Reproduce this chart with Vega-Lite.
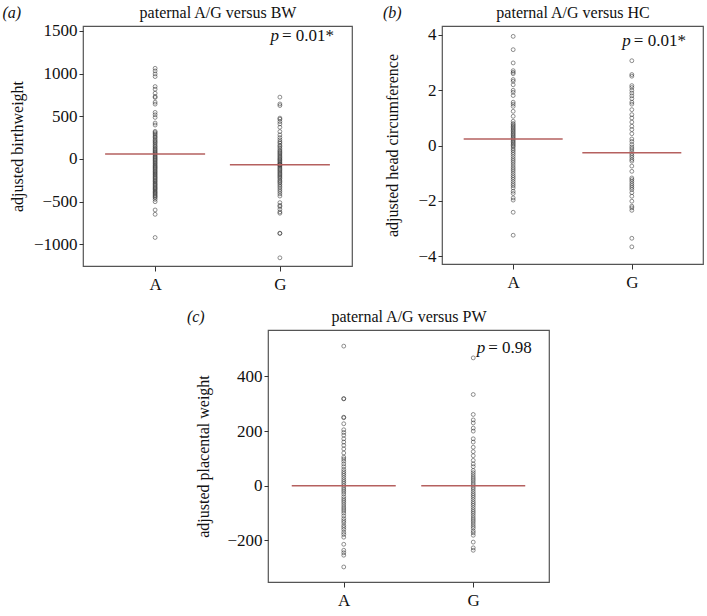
{
  "$schema": "https://vega.github.io/schema/vega-lite/v6.json",
  "background": "white",
  "padding": {"left": 1, "top": 3, "right": 0, "bottom": 0},
  "config": {
    "view": {"stroke": "#555", "strokeWidth": 1.2},
    "font": "Liberation Serif",
    "axis": {"grid": false, "domain": false, "tickColor": "#333", "tickSize": 4, "labelFont": "Liberation Serif", "labelFontSize": 17, "labelColor": "#111", "titleFont": "Liberation Serif", "titleFontSize": 16, "titleFontWeight": "normal", "titleColor": "#111"},
    "title": {"font": "Liberation Serif", "fontSize": 16, "fontWeight": "normal", "fontStyle": "italic", "color": "#111", "anchor": "start", "frame": "bounds", "baseline": "alphabetic", "offset": -16}
  },
  "datasets": {
    "pts": [
      {"panel":"a","group":"A","value":1062},{"panel":"a","group":"A","value":1031},{"panel":"a","group":"A","value":996},{"panel":"a","group":"A","value":965},{"panel":"a","group":"A","value":848},{"panel":"a","group":"A","value":817},{"panel":"a","group":"A","value":770},{"panel":"a","group":"A","value":731},{"panel":"a","group":"A","value":720},{"panel":"a","group":"A","value":665},{"panel":"a","group":"A","value":642},{"panel":"a","group":"A","value":545},{"panel":"a","group":"A","value":517},{"panel":"a","group":"A","value":486},{"panel":"a","group":"A","value":420},{"panel":"a","group":"A","value":397},{"panel":"a","group":"A","value":323},{"panel":"a","group":"A","value":310},{"panel":"a","group":"A","value":295},{"panel":"a","group":"A","value":280},{"panel":"a","group":"A","value":262},{"panel":"a","group":"A","value":250},{"panel":"a","group":"A","value":231},{"panel":"a","group":"A","value":215},{"panel":"a","group":"A","value":200},{"panel":"a","group":"A","value":187},{"panel":"a","group":"A","value":170},{"panel":"a","group":"A","value":152},{"panel":"a","group":"A","value":140},{"panel":"a","group":"A","value":123},{"panel":"a","group":"A","value":110},{"panel":"a","group":"A","value":95},{"panel":"a","group":"A","value":82},{"panel":"a","group":"A","value":70},{"panel":"a","group":"A","value":58},{"panel":"a","group":"A","value":45},{"panel":"a","group":"A","value":30},{"panel":"a","group":"A","value":18},{"panel":"a","group":"A","value":5},{"panel":"a","group":"A","value":-8},{"panel":"a","group":"A","value":-20},{"panel":"a","group":"A","value":-35},{"panel":"a","group":"A","value":-48},{"panel":"a","group":"A","value":-60},{"panel":"a","group":"A","value":-75},{"panel":"a","group":"A","value":-88},{"panel":"a","group":"A","value":-100},{"panel":"a","group":"A","value":-112},{"panel":"a","group":"A","value":-125},{"panel":"a","group":"A","value":-140},{"panel":"a","group":"A","value":-152},{"panel":"a","group":"A","value":-165},{"panel":"a","group":"A","value":-178},{"panel":"a","group":"A","value":-190},{"panel":"a","group":"A","value":-205},{"panel":"a","group":"A","value":-218},{"panel":"a","group":"A","value":-230},{"panel":"a","group":"A","value":-245},{"panel":"a","group":"A","value":-258},{"panel":"a","group":"A","value":-270},{"panel":"a","group":"A","value":-285},{"panel":"a","group":"A","value":-298},{"panel":"a","group":"A","value":-310},{"panel":"a","group":"A","value":-325},{"panel":"a","group":"A","value":-338},{"panel":"a","group":"A","value":-350},{"panel":"a","group":"A","value":-362},{"panel":"a","group":"A","value":-378},{"panel":"a","group":"A","value":-390},{"panel":"a","group":"A","value":-402},{"panel":"a","group":"A","value":-415},{"panel":"a","group":"A","value":-430},{"panel":"a","group":"A","value":-442},{"panel":"a","group":"A","value":-455},{"panel":"a","group":"A","value":-475},{"panel":"a","group":"A","value":-502},{"panel":"a","group":"A","value":-599},{"panel":"a","group":"A","value":-650},{"panel":"a","group":"A","value":-922},
      {"panel":"a","group":"G","value":724},{"panel":"a","group":"G","value":644},{"panel":"a","group":"G","value":625},{"panel":"a","group":"G","value":478},{"panel":"a","group":"G","value":465},{"panel":"a","group":"G","value":437},{"panel":"a","group":"G","value":410},{"panel":"a","group":"G","value":371},{"panel":"a","group":"G","value":320},{"panel":"a","group":"G","value":281},{"panel":"a","group":"G","value":250},{"panel":"a","group":"G","value":223},{"panel":"a","group":"G","value":200},{"panel":"a","group":"G","value":184},{"panel":"a","group":"G","value":160},{"panel":"a","group":"G","value":145},{"panel":"a","group":"G","value":125},{"panel":"a","group":"G","value":105},{"panel":"a","group":"G","value":90},{"panel":"a","group":"G","value":75},{"panel":"a","group":"G","value":60},{"panel":"a","group":"G","value":45},{"panel":"a","group":"G","value":30},{"panel":"a","group":"G","value":15},{"panel":"a","group":"G","value":0},{"panel":"a","group":"G","value":-12},{"panel":"a","group":"G","value":-25},{"panel":"a","group":"G","value":-40},{"panel":"a","group":"G","value":-55},{"panel":"a","group":"G","value":-65},{"panel":"a","group":"G","value":-70},{"panel":"a","group":"G","value":-80},{"panel":"a","group":"G","value":-95},{"panel":"a","group":"G","value":-110},{"panel":"a","group":"G","value":-125},{"panel":"a","group":"G","value":-140},{"panel":"a","group":"G","value":-155},{"panel":"a","group":"G","value":-170},{"panel":"a","group":"G","value":-185},{"panel":"a","group":"G","value":-200},{"panel":"a","group":"G","value":-215},{"panel":"a","group":"G","value":-230},{"panel":"a","group":"G","value":-250},{"panel":"a","group":"G","value":-265},{"panel":"a","group":"G","value":-280},{"panel":"a","group":"G","value":-300},{"panel":"a","group":"G","value":-320},{"panel":"a","group":"G","value":-340},{"panel":"a","group":"G","value":-363},{"panel":"a","group":"G","value":-385},{"panel":"a","group":"G","value":-410},{"panel":"a","group":"G","value":-436},{"panel":"a","group":"G","value":-513},{"panel":"a","group":"G","value":-545},{"panel":"a","group":"G","value":-559},{"panel":"a","group":"G","value":-591},{"panel":"a","group":"G","value":-622},{"panel":"a","group":"G","value":-637},{"panel":"a","group":"G","value":-871},{"panel":"a","group":"G","value":-875},{"panel":"a","group":"G","value":-1160},
      {"panel":"b","group":"A","value":3.95},{"panel":"b","group":"A","value":3.47},{"panel":"b","group":"A","value":2.99},{"panel":"b","group":"A","value":2.71},{"panel":"b","group":"A","value":2.65},{"panel":"b","group":"A","value":2.6},{"panel":"b","group":"A","value":2.39},{"panel":"b","group":"A","value":2.33},{"panel":"b","group":"A","value":2.2},{"panel":"b","group":"A","value":2.0},{"panel":"b","group":"A","value":1.93},{"panel":"b","group":"A","value":1.81},{"panel":"b","group":"A","value":1.57},{"panel":"b","group":"A","value":1.5},{"panel":"b","group":"A","value":1.42},{"panel":"b","group":"A","value":1.24},{"panel":"b","group":"A","value":1.06},{"panel":"b","group":"A","value":0.88},{"panel":"b","group":"A","value":0.8},{"panel":"b","group":"A","value":0.75},{"panel":"b","group":"A","value":0.7},{"panel":"b","group":"A","value":0.65},{"panel":"b","group":"A","value":0.6},{"panel":"b","group":"A","value":0.55},{"panel":"b","group":"A","value":0.5},{"panel":"b","group":"A","value":0.45},{"panel":"b","group":"A","value":0.4},{"panel":"b","group":"A","value":0.35},{"panel":"b","group":"A","value":0.3},{"panel":"b","group":"A","value":0.25},{"panel":"b","group":"A","value":0.2},{"panel":"b","group":"A","value":0.15},{"panel":"b","group":"A","value":0.1},{"panel":"b","group":"A","value":0.05},{"panel":"b","group":"A","value":0.0},{"panel":"b","group":"A","value":-0.05},{"panel":"b","group":"A","value":-0.12},{"panel":"b","group":"A","value":-0.18},{"panel":"b","group":"A","value":-0.25},{"panel":"b","group":"A","value":-0.32},{"panel":"b","group":"A","value":-0.4},{"panel":"b","group":"A","value":-0.48},{"panel":"b","group":"A","value":-0.55},{"panel":"b","group":"A","value":-0.62},{"panel":"b","group":"A","value":-0.7},{"panel":"b","group":"A","value":-0.78},{"panel":"b","group":"A","value":-0.85},{"panel":"b","group":"A","value":-0.92},{"panel":"b","group":"A","value":-1.0},{"panel":"b","group":"A","value":-1.08},{"panel":"b","group":"A","value":-1.15},{"panel":"b","group":"A","value":-1.22},{"panel":"b","group":"A","value":-1.3},{"panel":"b","group":"A","value":-1.38},{"panel":"b","group":"A","value":-1.45},{"panel":"b","group":"A","value":-1.53},{"panel":"b","group":"A","value":-1.65},{"panel":"b","group":"A","value":-1.73},{"panel":"b","group":"A","value":-1.89},{"panel":"b","group":"A","value":-1.97},{"panel":"b","group":"A","value":-2.41},{"panel":"b","group":"A","value":-3.24},
      {"panel":"b","group":"G","value":3.07},{"panel":"b","group":"G","value":2.57},{"panel":"b","group":"G","value":2.51},{"panel":"b","group":"G","value":2.17},{"panel":"b","group":"G","value":2.1},{"panel":"b","group":"G","value":2.0},{"panel":"b","group":"G","value":1.9},{"panel":"b","group":"G","value":1.8},{"panel":"b","group":"G","value":1.7},{"panel":"b","group":"G","value":1.57},{"panel":"b","group":"G","value":1.5},{"panel":"b","group":"G","value":1.3},{"panel":"b","group":"G","value":1.12},{"panel":"b","group":"G","value":1.0},{"panel":"b","group":"G","value":0.85},{"panel":"b","group":"G","value":0.7},{"panel":"b","group":"G","value":0.58},{"panel":"b","group":"G","value":0.43},{"panel":"b","group":"G","value":0.24},{"panel":"b","group":"G","value":0.15},{"panel":"b","group":"G","value":0.04},{"panel":"b","group":"G","value":-0.05},{"panel":"b","group":"G","value":-0.12},{"panel":"b","group":"G","value":-0.2},{"panel":"b","group":"G","value":-0.28},{"panel":"b","group":"G","value":-0.35},{"panel":"b","group":"G","value":-0.42},{"panel":"b","group":"G","value":-0.5},{"panel":"b","group":"G","value":-0.56},{"panel":"b","group":"G","value":-0.74},{"panel":"b","group":"G","value":-0.93},{"panel":"b","group":"G","value":-1.17},{"panel":"b","group":"G","value":-1.23},{"panel":"b","group":"G","value":-1.3},{"panel":"b","group":"G","value":-1.38},{"panel":"b","group":"G","value":-1.45},{"panel":"b","group":"G","value":-1.52},{"panel":"b","group":"G","value":-1.59},{"panel":"b","group":"G","value":-1.7},{"panel":"b","group":"G","value":-1.83},{"panel":"b","group":"G","value":-2.01},{"panel":"b","group":"G","value":-2.19},{"panel":"b","group":"G","value":-2.25},{"panel":"b","group":"G","value":-2.34},{"panel":"b","group":"G","value":-3.35},{"panel":"b","group":"G","value":-3.66},
      {"panel":"c","group":"A","value":511},{"panel":"c","group":"A","value":319},{"panel":"c","group":"A","value":318},{"panel":"c","group":"A","value":251},{"panel":"c","group":"A","value":249},{"panel":"c","group":"A","value":227},{"panel":"c","group":"A","value":205},{"panel":"c","group":"A","value":195},{"panel":"c","group":"A","value":185},{"panel":"c","group":"A","value":172},{"panel":"c","group":"A","value":160},{"panel":"c","group":"A","value":148},{"panel":"c","group":"A","value":135},{"panel":"c","group":"A","value":120},{"panel":"c","group":"A","value":105},{"panel":"c","group":"A","value":98},{"panel":"c","group":"A","value":90},{"panel":"c","group":"A","value":80},{"panel":"c","group":"A","value":70},{"panel":"c","group":"A","value":60},{"panel":"c","group":"A","value":52},{"panel":"c","group":"A","value":45},{"panel":"c","group":"A","value":38},{"panel":"c","group":"A","value":30},{"panel":"c","group":"A","value":22},{"panel":"c","group":"A","value":15},{"panel":"c","group":"A","value":8},{"panel":"c","group":"A","value":0},{"panel":"c","group":"A","value":-8},{"panel":"c","group":"A","value":-15},{"panel":"c","group":"A","value":-22},{"panel":"c","group":"A","value":-30},{"panel":"c","group":"A","value":-40},{"panel":"c","group":"A","value":-48},{"panel":"c","group":"A","value":-55},{"panel":"c","group":"A","value":-62},{"panel":"c","group":"A","value":-70},{"panel":"c","group":"A","value":-78},{"panel":"c","group":"A","value":-85},{"panel":"c","group":"A","value":-92},{"panel":"c","group":"A","value":-100},{"panel":"c","group":"A","value":-110},{"panel":"c","group":"A","value":-120},{"panel":"c","group":"A","value":-128},{"panel":"c","group":"A","value":-135},{"panel":"c","group":"A","value":-145},{"panel":"c","group":"A","value":-152},{"panel":"c","group":"A","value":-160},{"panel":"c","group":"A","value":-170},{"panel":"c","group":"A","value":-178},{"panel":"c","group":"A","value":-188},{"panel":"c","group":"A","value":-214},{"panel":"c","group":"A","value":-236},{"panel":"c","group":"A","value":-245},{"panel":"c","group":"A","value":-254},{"panel":"c","group":"A","value":-297},
      {"panel":"c","group":"G","value":468},{"panel":"c","group":"G","value":334},{"panel":"c","group":"G","value":261},{"panel":"c","group":"G","value":241},{"panel":"c","group":"G","value":230},{"panel":"c","group":"G","value":211},{"panel":"c","group":"G","value":200},{"panel":"c","group":"G","value":172},{"panel":"c","group":"G","value":160},{"panel":"c","group":"G","value":141},{"panel":"c","group":"G","value":125},{"panel":"c","group":"G","value":110},{"panel":"c","group":"G","value":93},{"panel":"c","group":"G","value":80},{"panel":"c","group":"G","value":70},{"panel":"c","group":"G","value":56},{"panel":"c","group":"G","value":48},{"panel":"c","group":"G","value":40},{"panel":"c","group":"G","value":32},{"panel":"c","group":"G","value":25},{"panel":"c","group":"G","value":18},{"panel":"c","group":"G","value":10},{"panel":"c","group":"G","value":3},{"panel":"c","group":"G","value":-5},{"panel":"c","group":"G","value":-12},{"panel":"c","group":"G","value":-20},{"panel":"c","group":"G","value":-28},{"panel":"c","group":"G","value":-35},{"panel":"c","group":"G","value":-42},{"panel":"c","group":"G","value":-50},{"panel":"c","group":"G","value":-58},{"panel":"c","group":"G","value":-65},{"panel":"c","group":"G","value":-72},{"panel":"c","group":"G","value":-80},{"panel":"c","group":"G","value":-88},{"panel":"c","group":"G","value":-95},{"panel":"c","group":"G","value":-102},{"panel":"c","group":"G","value":-110},{"panel":"c","group":"G","value":-118},{"panel":"c","group":"G","value":-125},{"panel":"c","group":"G","value":-132},{"panel":"c","group":"G","value":-140},{"panel":"c","group":"G","value":-148},{"panel":"c","group":"G","value":-155},{"panel":"c","group":"G","value":-165},{"panel":"c","group":"G","value":-172},{"panel":"c","group":"G","value":-181},{"panel":"c","group":"G","value":-206},{"panel":"c","group":"G","value":-227},{"panel":"c","group":"G","value":-236}
    ],
    "means": [
      {"panel":"a","group":"A","mean":58},{"panel":"a","group":"G","mean":-70},
      {"panel":"b","group":"A","mean":0.24},{"panel":"b","group":"G","mean":-0.26},
      {"panel":"c","group":"A","mean":0},{"panel":"c","group":"G","mean":0}
    ],
    "pv": [
      {"panel":"a","p":"p","rest":"= 0.01*"},
      {"panel":"b","p":"p","rest":"= 0.01*"},
      {"panel":"c","p":"p","rest":"= 0.98"}
    ]
  },
  "spacing": 14,
  "vconcat": [
    {
      "spacing": 29,
      "hconcat": [
        {
          "width": 269, "height": 240,
          "title": {"text": "(a)", "dx": -7},
          "resolve": {"axis": {"x": "independent"}},
          "layer": [
            {
              "data": {"name": "pts"},
              "transform": [{"filter": "datum.panel === 'a'"}],
              "mark": {"type": "point", "shape": "circle", "size": 15, "stroke": "#222", "strokeWidth": 0.85, "strokeOpacity": 0.85, "filled": false},
              "encoding": {
                "x": {"field": "group", "type": "nominal", "scale": {"type": "point", "domain": ["A", "G"], "padding": 0.578}, "axis": {"title": null, "labelAngle": 0, "tickSize": 5, "labelPadding": 5}},
                "y": {"field": "value", "type": "quantitative", "scale": {"domain": [-1256, 1558], "nice": false, "zero": false}, "axis": {"title": "adjusted birthweight", "values": [-1000, -500, 0, 500, 1000, 1500], "format": "d", "labelPadding": 2, "titlePadding": 8}}
              }
            },
            {
              "data": {"name": "means"},
              "transform": [{"filter": "datum.panel === 'a'"}],
              "mark": {"type": "tick", "orient": "horizontal", "size": 100, "thickness": 1.5, "color": "#b5605f", "opacity": 1},
              "encoding": {
                "x": {"field": "group", "type": "nominal", "axis": {"orient": "top", "title": "paternal A/G versus BW", "labels": false, "ticks": false, "domain": false, "titlePadding": 8.5, "titleBaseline": "alphabetic"}},
                "y": {"field": "mean", "type": "quantitative"}
              }
            },
            {
              "data": {"name": "pv"},
              "transform": [{"filter": "datum.panel === 'a'"}],
              "mark": {"type": "text", "align": "right", "baseline": "alphabetic", "dx": -1, "fontSize": 17, "fontStyle": "italic", "font": "Liberation Serif", "color": "#111"},
              "encoding": {"x": {"datum": "G", "type": "nominal", "axis": null}, "y": {"datum": 1383, "type": "quantitative"}, "text": {"field": "p"}}
            },
            {
              "data": {"name": "pv"},
              "transform": [{"filter": "datum.panel === 'a'"}],
              "mark": {"type": "text", "align": "left", "baseline": "alphabetic", "dx": 2, "fontSize": 17, "font": "Liberation Serif", "color": "#111"},
              "encoding": {"x": {"datum": "G", "type": "nominal", "axis": null}, "y": {"datum": 1383, "type": "quantitative"}, "text": {"field": "rest"}}
            }
          ]
        },
        {
          "width": 261, "height": 238,
          "title": {"text": "(b)", "dx": -2},
          "resolve": {"axis": {"x": "independent"}},
          "layer": [
            {
              "data": {"name": "pts"},
              "transform": [{"filter": "datum.panel === 'b'"}],
              "mark": {"type": "point", "shape": "circle", "size": 15, "stroke": "#222", "strokeWidth": 0.85, "strokeOpacity": 0.85, "filled": false},
              "encoding": {
                "x": {"field": "group", "type": "nominal", "scale": {"type": "point", "domain": ["A", "G"], "padding": 0.6}, "axis": {"title": null, "labelAngle": 0, "tickSize": 5, "labelPadding": 5}},
                "y": {"field": "value", "type": "quantitative", "scale": {"domain": [-4.28, 4.325], "nice": false, "zero": false}, "axis": {"title": "adjusted head circumference", "values": [-4, -2, 0, 2, 4], "format": "d", "labelPadding": 2, "titlePadding": 17}}
              }
            },
            {
              "data": {"name": "means"},
              "transform": [{"filter": "datum.panel === 'b'"}],
              "mark": {"type": "tick", "orient": "horizontal", "size": 99, "thickness": 1.5, "color": "#b5605f", "opacity": 1},
              "encoding": {
                "x": {"field": "group", "type": "nominal", "axis": {"orient": "top", "title": "paternal A/G versus HC", "labels": false, "ticks": false, "domain": false, "titlePadding": 8.5, "titleBaseline": "alphabetic"}},
                "y": {"field": "mean", "type": "quantitative"}
              }
            },
            {
              "data": {"name": "pv"},
              "transform": [{"filter": "datum.panel === 'b'"}],
              "mark": {"type": "text", "align": "right", "baseline": "alphabetic", "dx": -1, "fontSize": 17, "fontStyle": "italic", "font": "Liberation Serif", "color": "#111"},
              "encoding": {"x": {"datum": "G", "type": "nominal", "axis": null}, "y": {"datum": 3.59, "type": "quantitative"}, "text": {"field": "p"}}
            },
            {
              "data": {"name": "pv"},
              "transform": [{"filter": "datum.panel === 'b'"}],
              "mark": {"type": "text", "align": "left", "baseline": "alphabetic", "dx": 2, "fontSize": 17, "font": "Liberation Serif", "color": "#111"},
              "encoding": {"x": {"datum": "G", "type": "nominal", "axis": null}, "y": {"datum": 3.59, "type": "quantitative"}, "text": {"field": "rest"}}
            }
          ]
        }
      ]
    },
    {
      "spacing": 0,
      "hconcat": [
        {
          "width": 103, "height": 10,
          "view": {"stroke": null},
          "data": {"values": []},
          "mark": "point"
        },
        {
          "width": 281, "height": 252,
          "title": {"text": "(c)", "dx": -9},
          "resolve": {"axis": {"x": "independent"}},
          "layer": [
            {
              "data": {"name": "pts"},
              "transform": [{"filter": "datum.panel === 'c'"}],
              "mark": {"type": "point", "shape": "circle", "size": 15, "stroke": "#222", "strokeWidth": 0.85, "strokeOpacity": 0.85, "filled": false},
              "encoding": {
                "x": {"field": "group", "type": "nominal", "scale": {"type": "point", "domain": ["A", "G"], "padding": 0.585}, "axis": {"title": null, "labelAngle": 0, "tickSize": 5, "labelPadding": 5}},
                "y": {"field": "value", "type": "quantitative", "scale": {"domain": [-352, 570], "nice": false, "zero": false}, "axis": {"title": "adjusted placental weight", "values": [-200, 0, 200, 400], "format": "d", "labelPadding": 2, "titlePadding": 15}}
              }
            },
            {
              "data": {"name": "means"},
              "transform": [{"filter": "datum.panel === 'c'"}],
              "mark": {"type": "tick", "orient": "horizontal", "size": 104, "thickness": 1.5, "color": "#b5605f", "opacity": 1},
              "encoding": {
                "x": {"field": "group", "type": "nominal", "axis": {"orient": "top", "title": "paternal A/G versus PW", "labels": false, "ticks": false, "domain": false, "titlePadding": 8.5, "titleBaseline": "alphabetic"}},
                "y": {"field": "mean", "type": "quantitative"}
              }
            },
            {
              "data": {"name": "pv"},
              "transform": [{"filter": "datum.panel === 'c'"}],
              "mark": {"type": "text", "align": "right", "baseline": "alphabetic", "dx": 12, "fontSize": 17, "fontStyle": "italic", "font": "Liberation Serif", "color": "#111"},
              "encoding": {"x": {"datum": "G", "type": "nominal", "axis": null}, "y": {"datum": 485, "type": "quantitative"}, "text": {"field": "p"}}
            },
            {
              "data": {"name": "pv"},
              "transform": [{"filter": "datum.panel === 'c'"}],
              "mark": {"type": "text", "align": "left", "baseline": "alphabetic", "dx": 15, "fontSize": 17, "font": "Liberation Serif", "color": "#111"},
              "encoding": {"x": {"datum": "G", "type": "nominal", "axis": null}, "y": {"datum": 485, "type": "quantitative"}, "text": {"field": "rest"}}
            }
          ]
        }
      ]
    }
  ]
}
